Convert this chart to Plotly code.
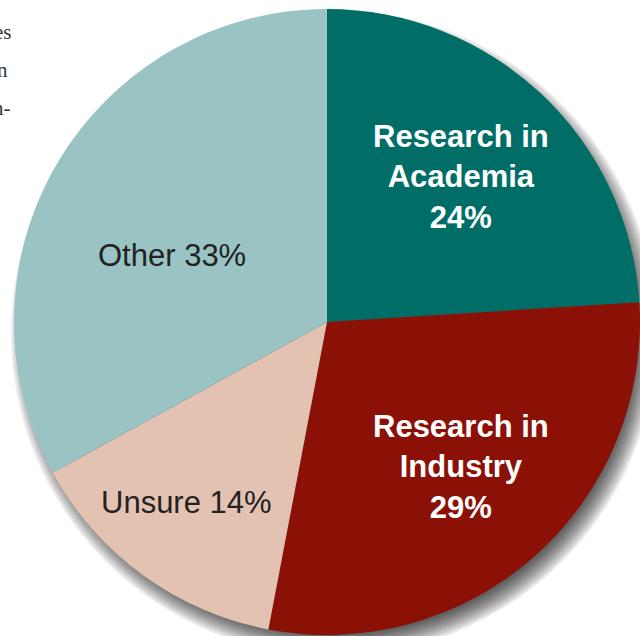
import math
import plotly.graph_objects as go

labels = ["Research in<br>Academia", "Research in<br>Industry", "Unsure", "Other"]
values = [24, 29, 14, 33]
colors = ["#006D66", "#8B1006", "#E4C2B2", "#9AC4C4"]
text_colors = ["#FFFFFF", "#FFFFFF", "#222222", "#222222"]
text_bold = [True, True, False, False]
label_sep = ["<br>", "<br>", " ", " "]
# label placement style: radial fraction and angular nudge (degrees)
label_r = [0.63, 0.63, 0.73, 0.54]
label_nudge = [-0.5, -1.3, 1.9, -7.3]

W, H = 640, 636
cx, cy, R = 327, 322, 313  # pie geometry in figure pixels

fig = go.Figure()
fig.add_trace(go.Pie(
    labels=labels, values=values, sort=False, direction="clockwise", rotation=0,
    marker=dict(colors=colors, line=dict(width=0)),
    textinfo="none",
    domain=dict(x=[(cx - R) / W, min(1, (cx + R) / W)], y=[(H - cy - R) / H, (H - cy + R) / H]),
    showlegend=False, hoverinfo="skip",
))

# soft drop shadow (stacked translucent discs)
shapes = []
dx, dy = 7, 11
for k in range(13):
    r = R - 14 + k * 2
    shapes.append(dict(type="circle", xref="paper", yref="paper", layer="below",
                       x0=(cx + dx - r) / W, x1=(cx + dx + r) / W,
                       y0=(H - (cy + dy) - r) / H, y1=(H - (cy + dy) + r) / H,
                       fillcolor="rgba(0,0,0,0.08)", line=dict(width=0)))

annotations = []
total = sum(values)
cum = 0
for lab, v, c, b, sep, rf, nud in zip(labels, values, text_colors, text_bold, label_sep, label_r, label_nudge):
    mid = (cum + v / 2) / total * 360 + nud
    cum += v
    a = math.radians(mid)
    px = cx + rf * R * math.sin(a)
    py = cy - rf * R * math.cos(a)
    txt = f"{lab}{sep}{v}%"
    if b:
        txt = "<b>" + txt.replace("<br>", "</b><br><b>") + "</b>"
    annotations.append(dict(text=txt, x=px / W, y=1 - py / H, xref="paper", yref="paper",
                            xanchor="center", yanchor="middle", showarrow=False, align="center",
                            font=dict(family="Liberation Sans, Arial, sans-serif", size=31, color=c)))

# fragments of neighbouring body text at the left edge
side_text = ["es", "n", "n-"]
side_right = [14, 10, 13]
side_y = [32, 70, 108]
for t, xr, yy in zip(side_text, side_right, side_y):
    annotations.append(dict(text=t, x=xr / W, y=1 - yy / H, xref="paper", yref="paper",
                            xanchor="right", yanchor="middle", showarrow=False,
                            font=dict(family="Liberation Serif, Times New Roman, serif", size=21, color="#333333")))

fig.update_layout(width=W, height=H, margin=dict(l=0, r=0, t=0, b=0),
                  paper_bgcolor="white", plot_bgcolor="white",
                  shapes=shapes, annotations=annotations)
fig.write_html("out.html", config={"displayModeBar": False, "staticPlot": True},
               post_script="document.body.style.margin='0';document.body.style.overflow='hidden';")
